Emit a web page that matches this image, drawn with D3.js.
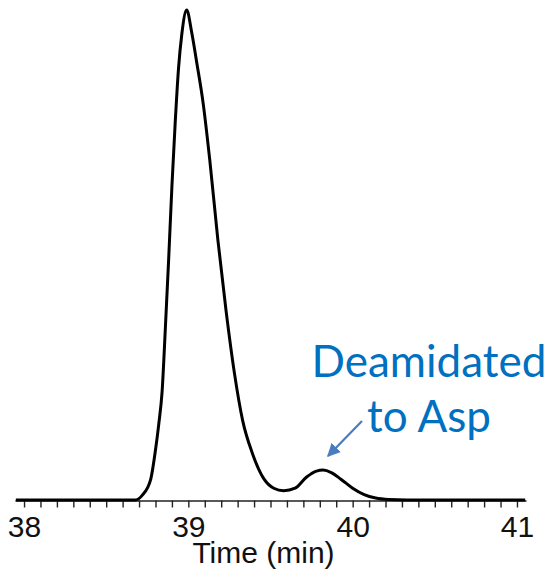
<!DOCTYPE html>
<html>
<head>
<meta charset="utf-8">
<script src="https://cdn.jsdelivr.net/npm/d3@7"></script>
<style>
  html, body { margin: 0; padding: 0; background: #fff; }
  svg { display: block; }
</style>
</head>
<body>
<svg id="chart" width="552" height="569"></svg>
<script>
// Retention time (min) of the chromatogram trace
const times = [37.95, 38.60, 38.68, 38.72, 38.77, 38.80, 38.82, 38.84, 38.86, 38.88, 38.90,
  38.92, 38.94, 38.96, 38.99, 39.02, 39.05, 39.09, 39.13, 39.18, 39.23,
  39.28, 39.33, 39.39, 39.46, 39.52, 39.58, 39.65, 39.72, 39.78, 39.82,
  39.87, 39.93, 40.00, 40.07, 40.14, 40.22, 40.33, 41.05];
// Relative signal intensity (% of main peak)
const signal = [0, 0, 0, 1.0, 4.1, 10.2, 15.5, 22, 35, 49, 64,
  77, 88, 95, 100, 95.5, 89.5, 81, 69.5, 53, 38.5,
  26, 16.3, 9.5, 4.3, 2.4, 1.9, 2.4, 4.7, 5.9, 6.1,
  5.6, 4.2, 2.4, 1.1, 0.4, 0.1, 0, 0];
// Axis ticks every 0.1 min, labelled on whole minutes
const tickValues = d3.range(380, 411).map(d => d / 10);
const labelledTicks = [38, 39, 40, 41];
const axisTitle = "Time (min)";
const annotationLines = ["Deamidated", "to Asp"];

const svg = d3.select("#chart");

const x = d3.scaleLinear().domain([37.945, 41.055]).range([15, 526]);
const y = d3.scaleLinear().domain([0, 100]).range([500, 10]);

// Time axis
const axis = d3.axisBottom(x)
  .tickValues(tickValues)
  .tickSize(7)
  .tickSizeOuter(0)
  .tickFormat(d => labelledTicks.some(v => Math.abs(v - d) < 1e-9) ? d3.format("d")(d) : "");

const gAxis = svg.append("g")
  .attr("transform", "translate(0,500.5)")
  .call(axis);
gAxis.select(".domain").attr("stroke", "#222").attr("stroke-width", 1.6);
gAxis.selectAll(".tick line").attr("stroke", "#222").attr("stroke-width", 1.4);
gAxis.selectAll(".tick text")
  .attr("fill", "#111")
  .attr("y", 36)
  .attr("dy", null)
  .style("font-family", "'Liberation Sans', Arial, sans-serif")
  .style("font-size", "30px");

svg.append("text")
  .attr("x", 263.5)
  .attr("y", 563)
  .attr("text-anchor", "middle")
  .attr("fill", "#111")
  .style("font-family", "'Liberation Sans', Arial, sans-serif")
  .style("font-size", "30px")
  .text(axisTitle);

// Chromatogram trace
const points = times.map((t, i) => [t, signal[i]]);
const line = d3.line()
  .x(d => x(d[0]))
  .y(d => y(d[1]))
  .curve(d3.curveMonotoneX);

svg.append("path")
  .datum(points)
  .attr("d", line)
  .attr("fill", "none")
  .attr("stroke", "#000")
  .attr("stroke-width", 3)
  .attr("stroke-linejoin", "round");

// Annotation for the deamidated species
const blue = "#0070C0";
const ann = svg.append("text")
  .attr("text-anchor", "middle")
  .attr("fill", blue)
  .style("font-family", "Lato, 'Noto Sans', sans-serif")
  .style("font-size", "44px");
ann.append("tspan").attr("x", 429).attr("y", 377).text(annotationLines[0]);
ann.append("tspan").attr("x", 429).attr("y", 432).text(annotationLines[1]);

const arrowColor = "#4a7cc0";
svg.append("defs").append("marker")
  .attr("id", "head")
  .attr("viewBox", "0 0 10 10")
  .attr("refX", 9)
  .attr("refY", 5)
  .attr("markerWidth", 6)
  .attr("markerHeight", 6)
  .attr("markerUnits", "strokeWidth")
  .attr("orient", "auto")
  .append("path")
  .attr("d", "M0,0 L10,5 L0,10 Z")
  .attr("fill", arrowColor);

svg.append("line")
  .attr("x1", 362).attr("y1", 421)
  .attr("x2", 328).attr("y2", 456)
  .attr("stroke", arrowColor)
  .attr("stroke-width", 2.2)
  .attr("marker-end", "url(#head)");
</script>
</body>
</html>
